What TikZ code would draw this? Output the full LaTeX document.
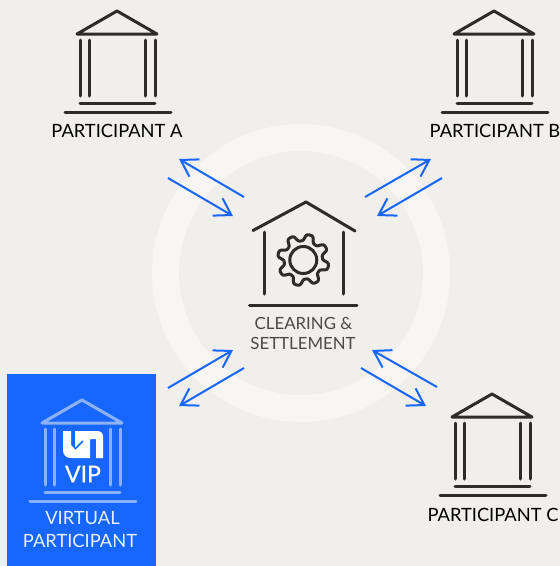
\documentclass[tikz,border=0pt]{standalone}
\usepackage{fontspec}
\setmainfont{Lato}
\newfontfamily\vipfont{Lato}[FakeBold=0.8]
\usetikzlibrary{arrows.meta, positioning}
\definecolor{paper}{RGB}{240, 239, 236}
\definecolor{ringcol}{RGB}{247, 246, 244}
\definecolor{ink}{RGB}{45, 44, 42}
\definecolor{vipblue}{RGB}{23, 102, 255}
\definecolor{viplight}{RGB}{140, 178, 255}
\tikzset{
    label/.style={font=\fontsize{18.3}{18.3}\selectfont, text=black, inner sep=0pt, anchor=center},
    vlabel/.style={font=\fontsize{18.3}{18.3}\selectfont, text=white!90!vipblue, inner sep=0pt, anchor=center},
    hlabel/.style={font=\fontsize{16.8}{16.8}\selectfont, text=ink!85!paper, inner sep=0pt},
    flow/.style={vipblue, line width=2pt, -{Straight Barb[length=16pt, width=20pt, line width=2pt]}},
    pics/temple/.style={code={
        \draw[line width=3pt, line join=round, line cap=round, #1] (-40,23) -- (0,0) -- (40,23) -- cycle;
        \foreach \colx in {-37,-28,28,38}
            \draw[line width=3pt, line cap=round, #1] (\colx,29) -- (\colx,85);
        \draw[line width=3pt, line cap=round, #1] (-37,92) -- (38,92);
        \draw[line width=3pt, line cap=round, #1] (-52,101) -- (54,101);
    }}
}
\begin{document}
\begin{tikzpicture}[x=1pt, y=-1pt]
    \useasboundingbox (0,0) rectangle (560,566);
    \fill[paper] (0,0) rectangle (560,566);
    \draw[ringcol, line width=27pt] (301,273) circle (135.5);

    % Virtual participant panel
    \fill[vipblue] (7,374) rectangle (156,566);

    \pic at (117,11) {temple=ink};
    \pic at (494,11) {temple=ink};
    \pic at (492,394) {temple=ink};
    \pic at (82,400) {temple=viplight};

    \node[label] (lblA) at (117,130.5) {PARTICIPANT A};
    \node[label] (lblB) at (495,130.5) {PARTICIPANT B};
    \node[label] (lblC) at (493,514.5) {PARTICIPANT C};
    \node[vlabel] (lblV1) at (82.5,518.5) {VIRTUAL};
    \node[vlabel] (lblV2) at (80,540.5) {PARTICIPANT};

    % Logo
    \fill[white] (63,431) -- (71,431) -- (71,445) -- (75,449) -- (75,431) -- (97,431)
        .. controls (101,431) and (103,433) .. (103,437) -- (103,458) -- (96,458) -- (96,439) -- (90,439) -- (90,458) -- (71,458)
        .. controls (66,458) and (63,455) .. (63,450) -- cycle;
    \draw[vipblue, line width=1.5pt] (75,449) -- (83,441);
    \node[font=\vipfont\fontsize{23}{23}\selectfont, text=white, inner sep=0pt] (vip) at (83,474) {VIP};

    % Clearing house
    \draw[ink, line width=3pt, line join=round, line cap=round] (253,230.5) -- (306,202) -- (355,231);
    \draw[ink, line width=3pt, line cap=round] (264.7,232) -- (264.7,294);
    \draw[ink, line width=3pt, line cap=round] (343.3,232) -- (343.3,294);
    \draw[ink, line width=3pt, line cap=round] (249.5,305) -- (357,305);
    \draw[ink, line width=3pt] (303.3,260) circle (13.5);
    \begin{scope}[shift={(303.3,260)}]
        \draw[ink, line width=3pt, line join=round]
            plot[smooth cycle, domain=0:359, samples=144, variable=\t] (\t:{22.5+3.5*tanh(1.8*cos(8*(\t-15)))});
    \end{scope}
    \node[hlabel] (lblS1) at (303.5,323.5) {CLEARING \&};
    \node[hlabel] (lblS2) at (303,343.5) {SETTLEMENT};

    % Arrows
    \coordinate (a1) at (244,197); \coordinate (a2) at (179,159);
    \coordinate (a3) at (168,178); \coordinate (a4) at (233,216);
    \coordinate (b1) at (365,197); \coordinate (b2) at (431,159);
    \coordinate (b3) at (442,178); \coordinate (b4) at (377,216);
    \coordinate (v1) at (168,388); \coordinate (v2) at (233,350);
    \coordinate (v3) at (244,368); \coordinate (v4) at (179,406);
    \coordinate (c1) at (437,387); \coordinate (c2) at (372,350);
    \coordinate (c3) at (361,368); \coordinate (c4) at (426,406);
    \draw[flow] (a1) -- (a2);
    \draw[flow] (a3) -- (a4);
    \draw[flow] (b1) -- (b2);
    \draw[flow] (b3) -- (b4);
    \draw[flow] (v1) -- (v2);
    \draw[flow] (v3) -- (v4);
    \draw[flow] (c1) -- (c2);
    \draw[flow] (c3) -- (c4);
\end{tikzpicture}
\end{document}
